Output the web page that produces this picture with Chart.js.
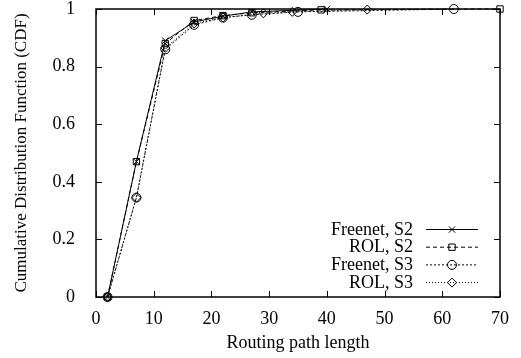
<!DOCTYPE html>
<html>
<head>
<meta charset="utf-8">
<script src="https://cdn.jsdelivr.net/npm/chart.js@4/dist/chart.umd.min.js"></script>
<style>
  html, body { margin: 0; padding: 0; background: #fff; }
  #wrap { width: 521px; height: 358px; }
</style>
</head>
<body>
<div id="wrap"><canvas id="c"></canvas></div>
<script>
// routing path length (x) and CDF (y) for each series
var freenetS2X = [2, 7, 12, 17, 22, 27, 40];
var freenetS2Y = [0, 0.47, 0.89, 0.955, 0.975, 0.99, 1.0];
var rolS2X = [2, 7, 12, 17, 22, 27, 39, 70];
var rolS2Y = [0, 0.47, 0.88, 0.96, 0.977, 0.987, 0.997, 1.0];
var freenetS3X = [2, 7, 12, 17, 22, 27, 35, 62];
var freenetS3Y = [0, 0.345, 0.86, 0.945, 0.97, 0.98, 0.99, 1.0];
var rolS3X = [2, 7, 12, 17, 22, 29, 34, 47];
var rolS3Y = [0, 0.345, 0.865, 0.95, 0.97, 0.985, 0.99, 0.998];

var seriesLabels = ['Freenet, S2', 'ROL, S2', 'Freenet, S3', 'ROL, S3'];
var xTicks = [0, 10, 20, 30, 40, 50, 60, 70];
var yTicks = [0, 0.2, 0.4, 0.6, 0.8, 1];

function pairs(xs, ys) {
    return xs.map(function(x, i) { return { x: x, y: ys[i] }; });
}

var FONT = '"Liberation Serif", "Times New Roman", serif';

function makeSet(label, xs, ys, dash, style) {
    return {
        label: label,
        data: pairs(xs, ys),
        borderColor: '#000',
        borderWidth: 1,
        borderDash: dash,
        pointStyle: style,
        pointRadius: 4.5,
        pointBorderWidth: 1,
        pointBorderColor: '#000',
        pointBackgroundColor: 'rgba(0,0,0,0)',
        fill: false,
        tension: 0,
        clip: false
    };
}

var datasets = [
    makeSet(seriesLabels[0], freenetS2X, freenetS2Y, [], 'crossRot'),
    makeSet(seriesLabels[1], rolS2X, rolS2Y, [4, 3], 'rect'),
    makeSet(seriesLabels[2], freenetS3X, freenetS3Y, [2, 2], 'circle'),
    makeSet(seriesLabels[3], rolS3X, rolS3Y, [1, 2], 'rectRot')
];

// frame, inward ticks on all sides, and a gnuplot-style legend
var framePlugin = {
    id: 'frame',
    afterDatasetsDraw: function(chart) {
        var ctx = chart.ctx;
        var a = chart.chartArea;
        var xs = chart.scales.x, ys = chart.scales.y;
        ctx.save();
        ctx.strokeStyle = '#000';
        ctx.lineWidth = 1;
        ctx.setLineDash([]);
        ctx.beginPath();
        xTicks.forEach(function(t) {
            var px = Math.round(xs.getPixelForValue(t)) + 0.5;
            ctx.moveTo(px, a.bottom); ctx.lineTo(px, a.bottom - 6);
            ctx.moveTo(px, a.top); ctx.lineTo(px, a.top + 6);
        });
        yTicks.forEach(function(t) {
            var py = Math.round(ys.getPixelForValue(t)) + 0.5;
            ctx.moveTo(a.left, py); ctx.lineTo(a.left + 6, py);
            ctx.moveTo(a.right, py); ctx.lineTo(a.right - 6, py);
        });
        ctx.stroke();
        ctx.lineWidth = 1.5;
        ctx.strokeRect(a.left, a.top, a.right - a.left, a.bottom - a.top);

        // legend
        ctx.font = '18px ' + FONT;
        ctx.textAlign = 'right';
        ctx.textBaseline = 'middle';
        var textRight = 413, lineL = 426, lineR = 478, y0 = 229, dy = 17.7;
        chart.data.datasets.forEach(function(ds, i) {
            var y = y0 + i * dy;
            ctx.fillStyle = '#000';
            ctx.fillText(ds.label, textRight, y + 1);
            ctx.lineWidth = 1;
            ctx.setLineDash(ds.borderDash);
            ctx.beginPath();
            ctx.moveTo(lineL, y + 0.5); ctx.lineTo(lineR, y + 0.5);
            ctx.stroke();
            ctx.setLineDash([]);
            ctx.fillStyle = 'rgba(0,0,0,0)';
            Chart.helpers.drawPoint(ctx, {
                pointStyle: ds.pointStyle, radius: 4.5, borderWidth: 1, rotation: 0
            }, (lineL + lineR) / 2, y + 0.5);
        });
        ctx.restore();
    }
};

new Chart(document.getElementById('c').getContext('2d'), {
    type: 'line',
    data: { datasets: datasets },
    options: {
        responsive: true,
        maintainAspectRatio: false,
        animation: false,
        layout: { padding: 0 },
        plugins: {
            legend: { display: false },
            tooltip: { enabled: false }
        },
        scales: {
            x: {
                type: 'linear',
                min: 0, max: 70,
                afterBuildTicks: function(s) { s.ticks = xTicks.map(function(v) { return { value: v }; }); },
                afterFit: function(s) { s.height = 61; s.paddingLeft = 0; s.paddingRight = 21; },
                grid: { display: false },
                border: { display: false },
                ticks: { color: '#000', font: { family: FONT, size: 18 }, padding: 3, maxRotation: 0 },
                title: { display: true, text: 'Routing path length', color: '#000',
                         font: { family: FONT, size: 18 }, padding: { top: 4, bottom: 4 } }
            },
            y: {
                type: 'linear',
                min: 0, max: 1,
                afterBuildTicks: function(s) { s.ticks = yTicks.map(function(v) { return { value: v }; }); },
                afterFit: function(s) { s.width = 96; s.paddingTop = 9; s.paddingBottom = 0; },
                grid: { display: false },
                border: { display: false },
                ticks: { color: '#000', font: { family: FONT, size: 18 }, padding: 13,
                         callback: function(v) { return String(Math.round(v * 10) / 10); } },
                title: { display: true, text: 'Cumulative Distribution Function (CDF)', color: '#000',
                         font: { family: FONT, size: 17 }, padding: { top: 11, bottom: 0 } }
            }
        }
    },
    plugins: [framePlugin]
});
</script>
</body>
</html>
